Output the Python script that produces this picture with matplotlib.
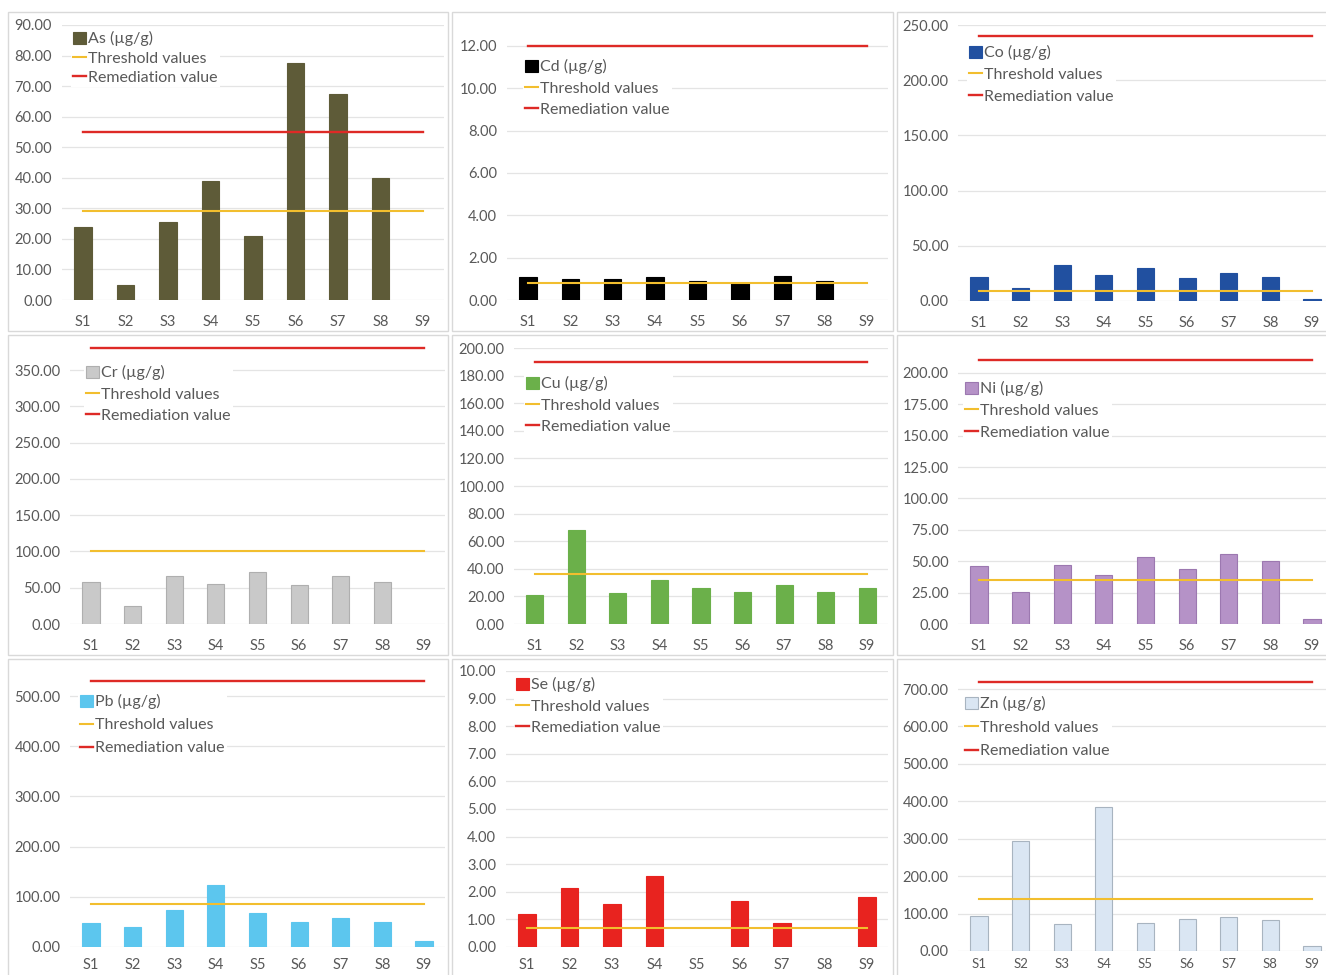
import matplotlib
matplotlib.use("Agg")
import matplotlib.pyplot as plt
from matplotlib.patches import Rectangle, Patch
from matplotlib.lines import Line2D

W, H = 1326, 975

sites = ["S1", "S2", "S3", "S4", "S5", "S6", "S7", "S8", "S9"]

as_vals = [24.0, 5.0, 25.5, 39.0, 21.0, 77.5, 67.5, 39.8, 0.0]
cd_vals = [1.10, 0.97, 0.98, 1.07, 0.88, 0.80, 1.15, 0.90, 0.0]
co_vals = [21.4, 11.5, 32.3, 23.6, 30.2, 21.1, 25.7, 22.0, 2.1]
cr_vals = [57.3, 25.2, 66.0, 54.6, 71.0, 53.7, 66.5, 57.8, 0.0]
cu_vals = [21.0, 68.2, 22.7, 31.9, 26.4, 23.5, 28.0, 23.5, 25.9]
ni_vals = [46.5, 25.8, 47.0, 39.0, 53.7, 43.9, 55.6, 50.5, 4.3]
pb_vals = [47.7, 38.4, 72.8, 123.8, 68.2, 49.7, 57.0, 49.7, 10.6]
se_vals = [1.18, 2.15, 1.56, 2.56, 0.0, 1.68, 0.88, 0.0, 1.81]
zn_vals = [92.6, 293.0, 72.0, 384.0, 74.8, 85.5, 90.8, 83.7, 12.5]

# target (threshold) and intervention (remediation) values per metal
thresholds = {"As": 29, "Cd": 0.8, "Co": 9, "Cr": 100, "Cu": 36,
              "Ni": 35, "Pb": 85, "Se": 0.7, "Zn": 140}
remediation = {"As": 55, "Cd": 12, "Co": 240, "Cr": 380, "Cu": 190,
               "Ni": 210, "Pb": 530, "Se": 100, "Zn": 720}

plt.rcParams["font.family"] = ["Lato", "DejaVu Sans"]

THR_COLOR = "#F2BE2E"
REM_COLOR = "#DE2A26"
GRID = "#E4E4E4"
TXT = "#595959"

fig = plt.figure(figsize=(W / 100, H / 100), dpi=100)
fig.patch.set_facecolor("white")


def px_axes(x0, y0, x1, y1):
    return fig.add_axes([x0 / W, 1 - y1 / H, (x1 - x0) / W, (y1 - y0) / H])


def frame(x0, y0, x1, y1):
    fig.patches.append(Rectangle((x0 / W, 1 - y1 / H), (x1 - x0) / W, (y1 - y0) / H,
                                 transform=fig.transFigure, fill=False,
                                 edgecolor="#D9D9D9", linewidth=1.0, zorder=0))


# chart area borders
for (fx0, fx1) in [(8, 448), (452, 893), (897, 1330)]:
    for (fy0, fy1) in [(12, 331), (335, 655), (659, 980)]:
        frame(fx0, fy0, fx1, fy1)

panels = [
    # metal, values, face, edge, plot box (px), ylim, top tick, tick step,
    # legend anchor (px), legend row spacing, x label pad, x label size
    ("As", as_vals, "#5E5B38", "#5E5B38", (61.8, 25, 444.2, 300), 90, 90, 10, (71, 29), 0.28, 11, 10.5),
    ("Cd", cd_vals, "#000000", "#000000", (506.8, 24.8, 888.2, 300), 13, 12, 2, (523, 57), 0.40, 11, 10.5),
    ("Co", co_vals, "#2150A0", "#2150A0", (958.2, 25, 1332.8, 301), 250, 250, 50, (967, 43), 0.45, 11, 10.5),
    ("Cr", cr_vals, "#C9C9C9", "#AFAFAF", (70.2, 341, 444.8, 624), 390, 350, 50, (84, 363), 0.42, 11, 10.5),
    ("Cu", cu_vals, "#6BB04A", "#6BB04A", (514.2, 348, 887.8, 624), 200, 200, 20, (524, 374), 0.42, 11, 10.5),
    ("Ni", ni_vals, "#B592C7", "#9C78B0", (958.2, 341.6, 1332.8, 624), 225, 200, 25, (963, 379), 0.45, 11, 10.5),
    ("Pb", pb_vals, "#5CC6EE", "#5CC6EE", (70.2, 666.2, 444.8, 946.7), 560, 500, 100, (78, 692), 0.52, 8, 10.5),
    ("Se", se_vals, "#E8231F", "#E8231F", (505.8, 671, 888.2, 947), 10, 10, 1, (514, 675), 0.42, 8, 10.5),
    ("Zn", zn_vals, "#DAE6F3", "#A8B4C0", (958.2, 670.3, 1332.8, 951), 750, 700, 100, (963, 694), 0.55, 5, 9.5),
]

x = list(range(len(sites)))

for (metal, vals, face, edge, box, ytop, tmax, step, leg_at, spacing,
     xpad, xsize) in panels:
    ax = px_axes(*box)
    ax.set_xlim(-0.5, len(sites) - 0.5)
    ax.set_ylim(0, ytop)
    ax.set_axisbelow(True)
    ticks = []
    t = 0
    while t <= tmax + 1e-9:
        ticks.append(t)
        t += step
    ax.set_yticks(ticks)
    ax.set_yticklabels([f"{v:.2f}" for v in ticks])
    ax.set_xticks(x)
    ax.set_xticklabels(sites)
    ax.grid(axis="y", color=GRID, linewidth=0.9)
    for s in ax.spines.values():
        s.set_visible(False)
    ax.tick_params(length=0, labelsize=10.5, colors=TXT)
    ax.tick_params(axis="y", pad=7)
    ax.tick_params(axis="x", pad=xpad, labelsize=xsize)

    # empty samples get no outline
    widths = [0.8 if v > 0 else 0 for v in vals]
    ax.bar(x, vals, width=0.41, color=face, edgecolor=edge, linewidth=widths, zorder=2)
    ax.plot(x, [thresholds[metal]] * len(x), color=THR_COLOR, linewidth=1.5, zorder=3)
    ax.plot(x, [remediation[metal]] * len(x), color=REM_COLOR, linewidth=1.7, zorder=3)

    handles = [Patch(facecolor=face, edgecolor=edge, linewidth=0.8),
               Line2D([], [], color=THR_COLOR, linewidth=1.5),
               Line2D([], [], color=REM_COLOR, linewidth=1.7)]
    labels = [f"{metal} (µg/g)", "Threshold values", "Remediation value"]
    leg = ax.legend(handles, labels, loc="upper left",
                    bbox_to_anchor=(leg_at[0] / W, 1 - leg_at[1] / H),
                    bbox_transform=fig.transFigure, fontsize=11.5,
                    handlelength=0.8, handleheight=0.8, handletextpad=0.1,
                    labelspacing=spacing, borderpad=0.15, borderaxespad=0,
                    frameon=True, fancybox=False)
    leg.get_frame().set_facecolor("white")
    leg.get_frame().set_edgecolor("none")
    leg.get_frame().set_alpha(1.0)
    for txt in leg.get_texts():
        txt.set_color(TXT)
    leg.set_zorder(5)

fig.savefig("out.png", dpi=100)
